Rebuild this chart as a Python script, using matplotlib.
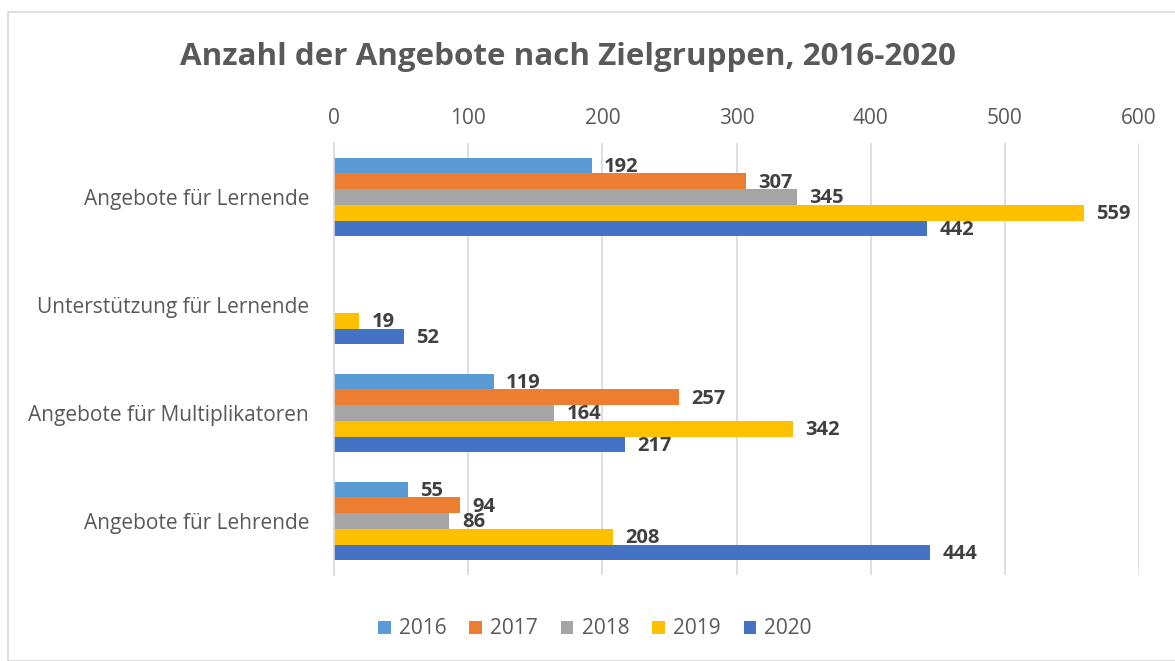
import numpy as np
import matplotlib.pyplot as plt
from matplotlib.patches import Rectangle

categories = [
    "Angebote für Lernende",
    "Unterstützung für Lernende",
    "Angebote für Multiplikatoren",
    "Angebote für Lehrende",
]
years = ["2016", "2017", "2018", "2019", "2020"]
values = {
    "2016": [192, None, 119, 55],
    "2017": [307, None, 257, 94],
    "2018": [345, None, 164, 86],
    "2019": [559, 19, 342, 208],
    "2020": [442, 52, 217, 444],
}
colors = ["#5B9BD5", "#ED7D31", "#A5A5A5", "#FFC000", "#4472C4"]

plt.rcParams["font.family"] = ["Open Sans", "DejaVu Sans"]

fig = plt.figure(figsize=(11.75, 6.61), dpi=100)
fig.patches.append(Rectangle((8 / 1175, 0), 1.0, 1 - 12 / 661, transform=fig.transFigure,
                             fill=False, edgecolor="#D9D9D9", linewidth=1.2))

ax = fig.add_axes([334 / 1175, 1 - 575 / 661, 805 / 1175, 432 / 661])

y = np.arange(len(categories))
h = 0.73 / len(years)
for j, (yr, col) in enumerate(zip(years, colors)):
    vals = [v if v is not None else 0 for v in values[yr]]
    pos = y - 0.365 + h * (j + 0.5)
    ax.barh(pos, vals, height=h, color=col, label=yr, zorder=2)
    for p, v in zip(pos, values[yr]):
        if v is None:
            continue
        ax.annotate(str(v), (v, p), xytext=(9, -1), textcoords="offset points",
                    ha="left", va="center", fontsize=14.5, fontweight="bold",
                    color="#404040", zorder=3)

ax.set_xlim(0, 600)
ax.set_ylim(len(categories) - 0.5, -0.5)
ax.set_xticks(range(0, 601, 100))
ax.xaxis.tick_top()
ax.set_yticks(y)
ax.set_yticklabels(categories)
ax.tick_params(axis="x", length=0, pad=10, labelsize=15, labelcolor="#595959")
ax.tick_params(axis="y", length=0, pad=18, labelsize=15, labelcolor="#595959")
ax.grid(axis="x", color="#D9D9D9", linewidth=1.2, zorder=0)
for s in ["top", "right", "bottom"]:
    ax.spines[s].set_visible(False)
ax.spines["left"].set_color("#D9D9D9")
ax.spines["left"].set_linewidth(1.2)

fig.text(568 / 1175, 1 - 57 / 661, "Anzahl der Angebote nach Zielgruppen, 2016-2020",
         ha="center", va="center", fontsize=22.6, fontweight="bold", color="#595959")

fig.legend(loc="center", bbox_to_anchor=(595 / 1175, 1 - 629 / 661), ncol=5,
           frameon=False, fontsize=15, handlelength=0.6, handleheight=0.6,
           handletextpad=0.4, columnspacing=1.1, labelcolor="#595959")

fig.savefig("out.png", dpi=100)
